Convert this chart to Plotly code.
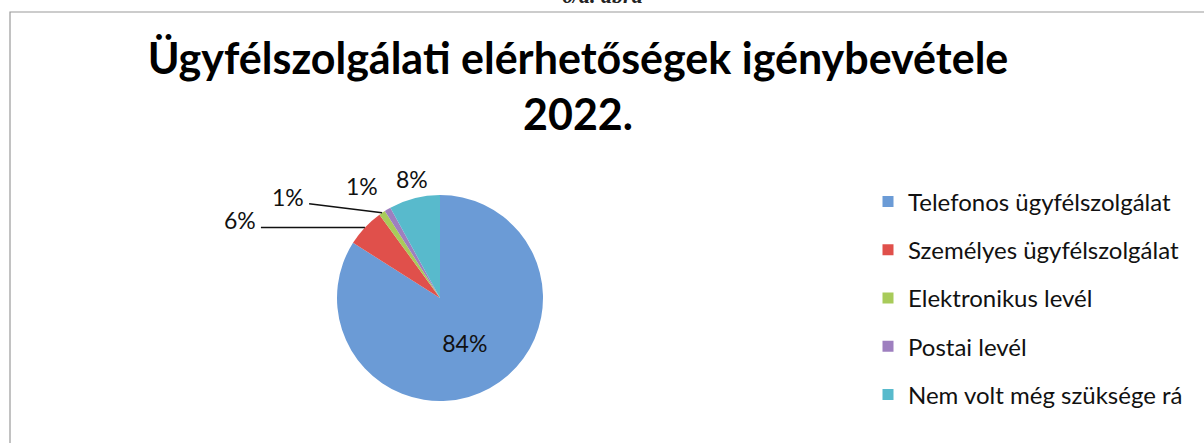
import math
import plotly.graph_objects as go

# Share of customer-service channel usage, 2022 (%)
categories = [
    "Telefonos ügyfélszolgálat",
    "Személyes ügyfélszolgálat",
    "Elektronikus levél",
    "Postai levél",
    "Nem volt még szüksége rá",
]
shares = [84, 6, 1, 1, 8]

colors = ["#6B9BD6", "#E0504B", "#A8CB5A", "#9E7FBF", "#58BACC"]

W, H = 1204, 443
FONT = "Lato, Calibri, 'Open Sans', sans-serif"

# pie geometry in pixels
CX, CY, R = 440, 298, 103

# label displacement from slice edge midpoint (px) and whether a leader line is drawn
label_offsets = [None, (-125, -7), (-94, -16), (-26, -23), (-2, -19)]
leader = [False, True, True, False, False]


def px(x):
    return x / W


def py(y):
    return 1 - y / H


fig = go.Figure()

total = sum(shares)
fig.add_trace(go.Pie(
    labels=categories,
    values=shares,
    sort=False,
    direction="clockwise",
    rotation=0,
    marker=dict(colors=colors, line=dict(width=0)),
    texttemplate="%{percent:.0%}",
    textposition=["inside", "none", "none", "none", "none"],
    insidetextorientation="horizontal",
    textfont=dict(family=FONT, size=23, color="#111111"),
    domain=dict(x=[px(CX - R), px(CX + R)], y=[py(CY + R), py(CY - R)]),
    showlegend=False,
    hoverinfo="label+percent",
))

# outside labels with leader lines, placed from each slice's mid angle
cum = 0.0
for i, v in enumerate(shares):
    mid = (cum + v / 2) / total * 2 * math.pi
    cum += v
    if label_offsets[i] is None:
        continue
    ex = CX + R * math.sin(mid)
    ey = CY - R * math.cos(mid)
    lx = ex + label_offsets[i][0]
    ly = ey + label_offsets[i][1]
    fig.add_annotation(
        x=px(lx), y=py(ly), xref="paper", yref="paper",
        text=f"{round(v / total * 100)}%", showarrow=False,
        xanchor="center", yanchor="middle",
        font=dict(family=FONT, size=23, color="#111111"),
    )
    if leader[i]:
        fig.add_shape(
            type="line", xref="paper", yref="paper",
            x0=px(lx + 21), y0=py(ly + 7), x1=px(ex), y1=py(ey),
            line=dict(color="#111111", width=1.5),
        )

# legend entries as separate groups so their spacing can be set
for name, col in zip(categories, colors):
    fig.add_trace(go.Scatter(
        x=[None], y=[None], mode="markers", name=name, legendgroup=name,
        marker=dict(symbol="square", size=11, color=col),
    ))

# chart frame
fig.add_shape(
    type="rect", xref="paper", yref="paper",
    x0=px(10), x1=px(W + 20), y0=py(H + 20), y1=py(12),
    line=dict(color="#9A9A9A", width=1.2), fillcolor="rgba(0,0,0,0)",
)

# caption above the frame
fig.add_annotation(
    x=px(602), y=py(10), xref="paper", yref="paper", text="<b><i>6/a. ábra</i></b>",
    showarrow=False, xanchor="center", yanchor="bottom",
    font=dict(family="Liberation Serif, serif", size=22, color="#222222"),
)

fig.update_layout(
    width=W, height=H,
    margin=dict(l=0, r=0, t=0, b=0),
    paper_bgcolor="white", plot_bgcolor="white",
    title=dict(
        text="<b>Ügyfélszolgálati elérhetőségek igénybevétele<br>2022.</b>",
        x=px(578), xanchor="center", y=py(74), yanchor="middle",
        font=dict(family=FONT, size=43, color="#000000"),
    ),
    xaxis=dict(visible=False), yaxis=dict(visible=False),
    legend=dict(
        x=px(868), y=py(298), xanchor="left", yanchor="middle",
        font=dict(family=FONT, size=24, color="#111111"),
        tracegroupgap=14, itemwidth=30, bgcolor="rgba(0,0,0,0)",
    ),
)

fig.write_html("out.html")
